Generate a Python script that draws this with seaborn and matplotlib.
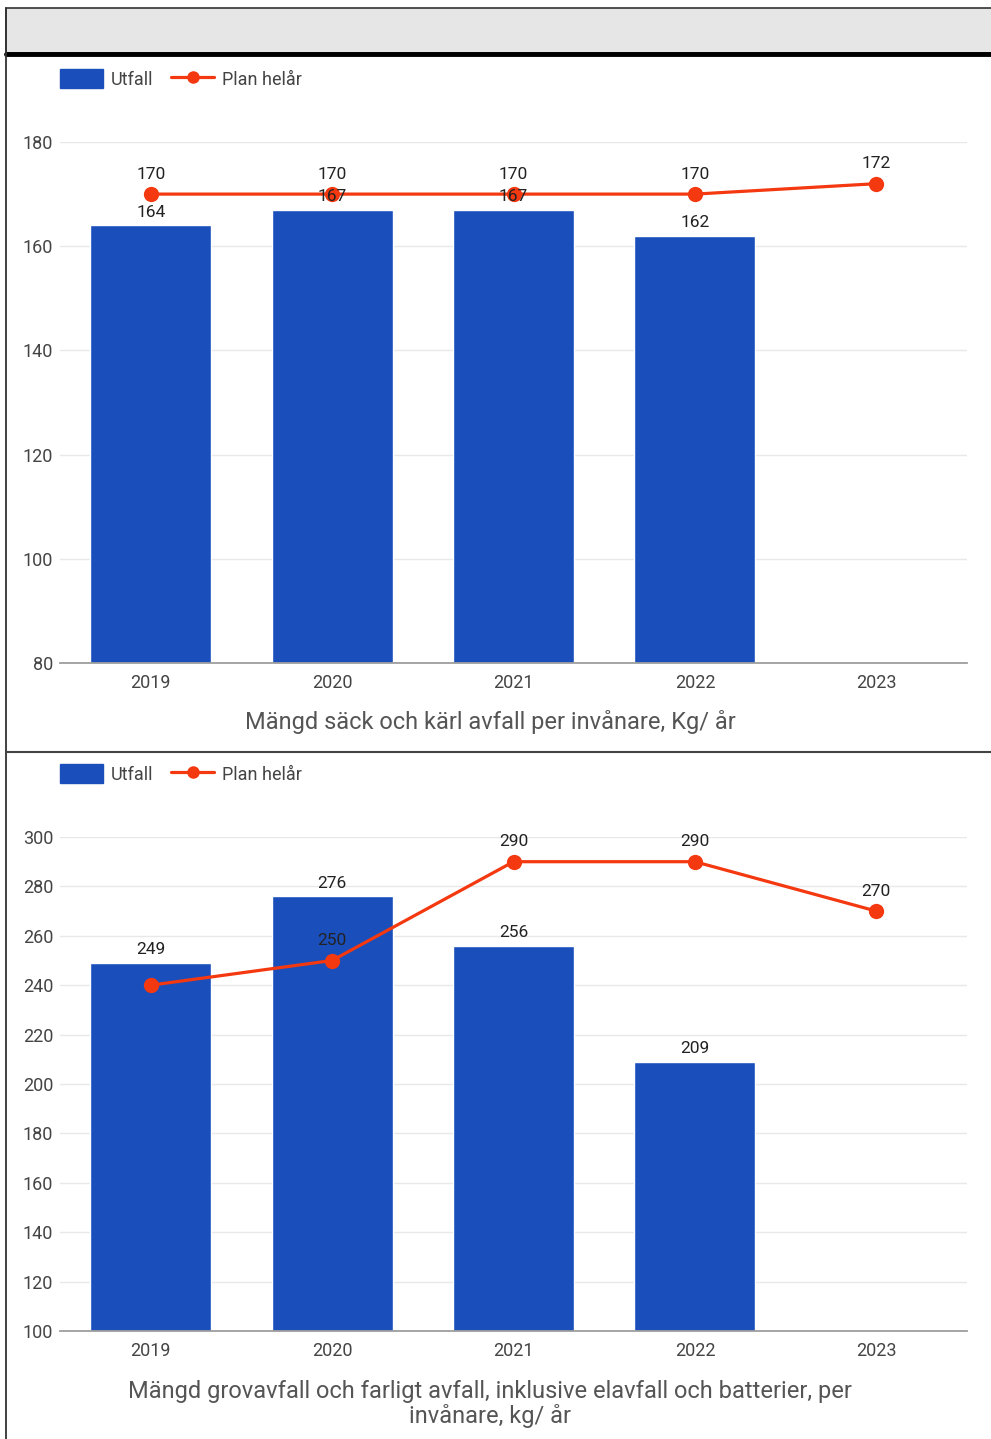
import numpy as np
import pandas as pd
import matplotlib.pyplot as plt
import seaborn as sns
from matplotlib.lines import Line2D
from matplotlib.patches import Rectangle

# --- data ---
years = ["2019", "2020", "2021", "2022", "2023"]
utfall_1 = [164, 167, 167, 162, np.nan]
plan_1 = [170, 170, 170, 170, 172]
utfall_2 = [249, 276, 256, 209, np.nan]
plan_2 = [240, 250, 290, 290, 270]

title_1 = "Mängd säck och kärl avfall per invånare, Kg/ år"
title_2 = "Mängd grovavfall och farligt avfall, inklusive elavfall och batterier, per\ninvånare, kg/ år"

BLUE = "#1a4fbb"
RED = "#f4380f"
W, H = 991, 1439

sns.set_theme(style="white")
plt.rcParams["font.family"] = ["Roboto", "DejaVu Sans"]

fig = plt.figure(figsize=(W / 100, H / 100), dpi=100)


def px_axes(left, top, right, bottom):
    return fig.add_axes([left / W, 1 - bottom / H, (right - left) / W, (bottom - top) / H])


def draw_chart(ax, utfall, plan, ylim, leg_y):
    df = pd.DataFrame({"year": years, "utfall": utfall, "plan": plan})
    df["pos"] = np.arange(len(df))
    sns.barplot(data=df, x="year", y="utfall", order=years, color=BLUE,
                width=0.667, saturation=1, ax=ax, zorder=2)
    sns.lineplot(data=df, x="pos", y="plan", color=RED, lw=2.3, marker="o",
                 markersize=11, markeredgewidth=0, ax=ax, zorder=3)
    ax.set_xlim(-0.5, len(years) - 0.5)
    ax.set_ylim(*ylim)
    ax.set_yticks(np.arange(ylim[0], ylim[1] + 1, 20))
    ax.grid(axis="y", color="#e8e8e8", lw=1, zorder=0)
    ax.set_axisbelow(True)
    for s in ["top", "right", "left"]:
        ax.spines[s].set_visible(False)
    ax.spines["bottom"].set_color("#9e9e9e")
    ax.spines["bottom"].set_linewidth(1.3)
    ax.tick_params(axis="x", length=0, pad=8, labelsize=13, labelcolor="#444444")
    ax.tick_params(axis="y", length=0, pad=5, labelsize=13, labelcolor="#444444")
    ax.set_xlabel("")
    ax.set_ylabel("")

    # pixel height per data unit, used to hide colliding labels like the original
    px_per_unit = ax.bbox.height / (ylim[1] - ylim[0])
    for i, v in enumerate(utfall):
        if not np.isnan(v):
            ax.annotate(f"{v:.0f}", (i, v), xytext=(0, 4), textcoords="offset points",
                        ha="center", va="bottom", fontsize=12.5, color="#222222", zorder=5)
    for i, v in enumerate(plan):
        b = utfall[i]
        if not np.isnan(b):
            bar_lab = b * px_per_unit + 5.5
            plan_lab = v * px_per_unit + 12.5
            if abs(bar_lab - plan_lab) < 18 and v < b:
                continue
        ax.annotate(f"{v:.0f}", (i, v), xytext=(0, 9), textcoords="offset points",
                    ha="center", va="bottom", fontsize=12.5, color="#222222", zorder=5)
    if ax.get_legend():
        ax.get_legend().remove()
    handles = [Rectangle((0, 0), 1, 1, color=BLUE),
               Line2D([0], [0], color=RED, lw=2.3, marker="o", markersize=9, markeredgewidth=0)]
    fig.legend(handles, ["Utfall", "Plan helår"], loc="center left",
               bbox_to_anchor=(51 / W, 1 - leg_y / H), ncol=2, frameon=False,
               fontsize=13, labelcolor="#444444", handlelength=2.4, handleheight=1.2,
               handletextpad=0.4, columnspacing=1.0, borderpad=0)


ax1 = px_axes(60, 142, 967, 663)
draw_chart(ax1, utfall_1, plan_1, (80, 180), 79)
fig.text(490 / W, 1 - 722 / H, title_1, ha="center", va="center", fontsize=17, color="#555555")

ax2 = px_axes(60, 837, 967, 1331)
draw_chart(ax2, utfall_2, plan_2, (100, 300), 774)
fig.text(490 / W, 1 - 1404 / H, title_2, ha="center", va="center", fontsize=17,
         color="#555555", linespacing=1.1)

# page frame decorations
fig.patches.append(Rectangle((6 / W, 1 - 53 / H), 1, 45 / H, transform=fig.transFigure,
                             facecolor="#e6e6e6", edgecolor="#333333", lw=1.2))
fig.add_artist(Line2D([6 / W, 1], [1 - 54 / H] * 2, color="black", lw=3.5))
fig.add_artist(Line2D([6 / W, 6 / W], [0, 1 - 8 / H], color="#333333", lw=1.3))
fig.add_artist(Line2D([6 / W, 1], [1 - 752 / H] * 2, color="#444444", lw=1.5))

fig.savefig("out.png", dpi=100)
